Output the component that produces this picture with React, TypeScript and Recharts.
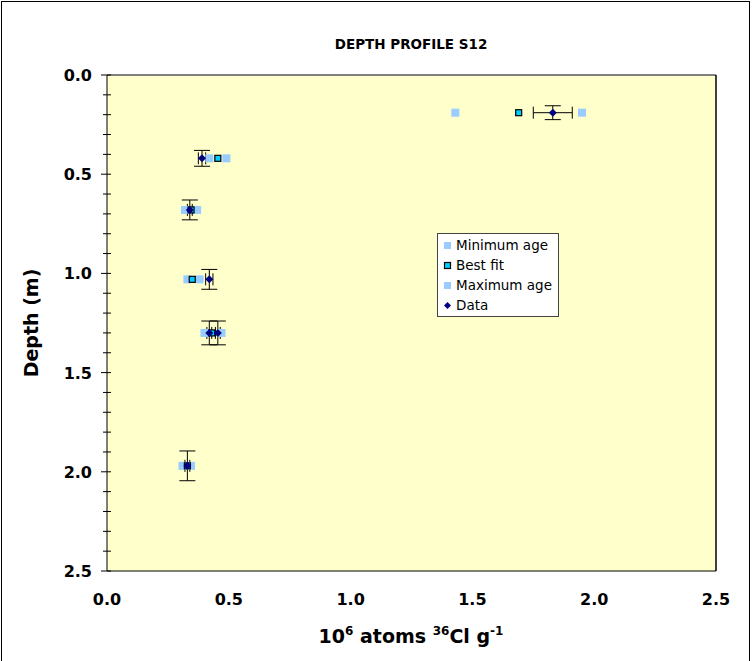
import React from 'react';
import {
  ScatterChart,
  Scatter,
  XAxis,
  YAxis,
  ErrorBar,
  CartesianGrid,
  ReferenceLine,
  Legend,
} from 'recharts';

// ---- data ----
const modelDepths = [0.19, 0.42, 0.68, 1.03, 1.3, 1.97];
const minAgeValues = [1.43, 0.42, 0.32, 0.33, 0.4, 0.31];
const bestFitValues = [1.69, 0.455, 0.345, 0.35, 0.43, 0.33];
const maxAgeValues = [1.95, 0.49, 0.37, 0.38, 0.47, 0.345];

const dataValues = [1.83, 0.39, 0.34, 0.42, 0.42, 0.455, 0.33];
const dataDepths = [0.19, 0.42, 0.68, 1.03, 1.3, 1.3, 1.97];
const dataXErr = [0.08, 0.015, 0.01, 0.015, 0.01, 0.01, 0.01];
const dataYErr = [0.035, 0.04, 0.05, 0.05, 0.06, 0.06, 0.075];

const xTicks = [0, 0.5, 1.0, 1.5, 2.0, 2.5];
const yTicks = [
  0, 0.1, 0.2, 0.3, 0.4, 0.5, 0.6, 0.7, 0.8, 0.9, 1.0, 1.1, 1.2, 1.3, 1.4, 1.5, 1.6, 1.7, 1.8, 1.9, 2.0,
  2.1, 2.2, 2.3, 2.4, 2.5,
];
const yMajorLabels = ['0.0', '0.5', '1.0', '1.5', '2.0', '2.5'];

const seriesNames = ['Minimum age', 'Best fit', 'Maximum age', 'Data'];

const minAgeData = modelDepths.map((d, i) => ({ x: minAgeValues[i], y: d }));
const bestFitData = modelDepths.map((d, i) => ({ x: bestFitValues[i], y: d }));
const maxAgeData = modelDepths.map((d, i) => ({ x: maxAgeValues[i], y: d }));
const measuredData = dataDepths.map((d, i) => ({
  x: dataValues[i],
  y: d,
  xErr: dataXErr[i],
  yErr: dataYErr[i],
}));

const FONT = '"DejaVu Sans", Verdana, sans-serif';
const LIGHT = '#99CCFF';
const CYAN = '#00CCFF';
const NAVY = '#000080';

const LightSquare = (props: any) => {
  const { cx, cy } = props;
  if (cx == null || cy == null) return null;
  return <rect x={cx - 4} y={cy - 4} width={8} height={8} fill={LIGHT} />;
};
const BestSquare = (props: any) => {
  const { cx, cy } = props;
  if (cx == null || cy == null) return null;
  return <rect x={cx - 3} y={cy - 3} width={6} height={6} fill={CYAN} stroke="#000" strokeWidth={1.2} />;
};
const Diamond = (props: any) => {
  const { cx, cy } = props;
  if (cx == null || cy == null) return null;
  return <path d={`M${cx},${cy - 4} L${cx + 4},${cy} L${cx},${cy + 4} L${cx - 4},${cy} Z`} fill={NAVY} />;
};

const YTick = (props: any) => {
  const { x, y, payload } = props;
  const v = payload.value as number;
  const label = yMajorLabels.find((l) => Math.abs(parseFloat(l) - v) < 1e-6);
  return (
    <g>
      <line x1={label ? x - 6 : x - 4} x2={x + 4} y1={y} y2={y} stroke="#000" strokeWidth={1} />
      {label && (
        <text x={x - 15} y={y} dy={6} textAnchor="end" fontFamily={FONT} fontWeight="bold" fontSize={16} fill="#000">
          {label}
        </text>
      )}
    </g>
  );
};

const XTick = (props: any) => {
  const { x, y, payload } = props;
  return (
    <text x={x} y={y + 34} textAnchor="middle" fontFamily={FONT} fontWeight="bold" fontSize={16} fill="#000">
      {(payload.value as number).toFixed(1)}
    </text>
  );
};

const LegendBox = () => {
  const icons = [
    <rect key="a" x={2} y={2} width={7} height={7} fill={LIGHT} />,
    <rect key="b" x={2.5} y={2.5} width={6} height={6} fill={CYAN} stroke="#000" strokeWidth={1.2} />,
    <rect key="c" x={2} y={2} width={7} height={7} fill={LIGHT} />,
    <path key="d" d="M5.5,2 L9,5.5 L5.5,9 L2,5.5 Z" fill={NAVY} />,
  ];
  return (
    <div
      style={{
        border: '1px solid #444',
        background: '#fff',
        padding: '1px 6px 1px 4px',
        fontFamily: FONT,
        fontSize: 13.5,
        lineHeight: '20px',
        color: '#000',
        width: 110,
      }}
    >
      {seriesNames.map((n, i) => (
        <div key={n} style={{ display: 'flex', alignItems: 'center', whiteSpace: 'nowrap' }}>
          <svg width={11} height={11} style={{ marginRight: 3 }}>
            {icons[i]}
          </svg>
          <span>{n}</span>
        </div>
      ))}
    </div>
  );
};

export default function App() {
  return (
    <div style={{ position: 'absolute', left: 0, top: 0, width: 753, height: 661, background: '#fff', overflow: 'hidden' }}>
      <div
        style={{
          position: 'absolute',
          left: 1,
          top: 1,
          width: 749,
          height: 720,
          border: '1px solid #000',
          boxSizing: 'border-box',
        }}
      />
      <div
        style={{
          position: 'absolute',
          left: 0,
          top: 36,
          width: 822,
          textAlign: 'center',
          fontFamily: FONT,
          fontWeight: 'bold',
          fontSize: 13.5,
          color: '#000',
        }}
      >
        DEPTH PROFILE S12
      </div>
      <div style={{ position: 'absolute', left: 0, top: 0 }}>
        <ScatterChart width={753} height={661} margin={{ top: 75, right: 37, left: 0, bottom: 0 }}>
          <CartesianGrid fill="#FFFFCC" horizontal={false} vertical={false} />
          <XAxis
            type="number"
            dataKey="x"
            domain={[0, 2.5]}
            ticks={xTicks}
            tick={<XTick />}
            tickLine={false}
            tickSize={0}
            tickMargin={0}
            axisLine={{ stroke: '#000', strokeWidth: 1 }}
            height={90}
            allowDataOverflow
            label={{
              content: () => (
                <text x={411} y={643} textAnchor="middle" fontFamily={FONT} fontWeight="bold" fontSize={19} fill="#000">
                  <tspan>10</tspan>
                  <tspan fontSize={12} dy={-8}>6</tspan>
                  <tspan dy={8}> atoms </tspan>
                  <tspan fontSize={12} dy={-8}>36</tspan>
                  <tspan dy={8}>Cl g</tspan>
                  <tspan fontSize={12} dy={-8}>-1</tspan>
                </text>
              ),
            }}
          />
          <YAxis
            type="number"
            dataKey="y"
            reversed
            domain={[0, 2.5]}
            ticks={yTicks}
            interval={0}
            tick={<YTick />}
            tickLine={false}
            tickSize={0}
            tickMargin={0}
            axisLine={{ stroke: '#000', strokeWidth: 1 }}
            width={107}
            allowDataOverflow
            label={{
              content: () => (
                <text
                  x={38}
                  y={323}
                  transform="rotate(-90 38 323)"
                  textAnchor="middle"
                  fontFamily={FONT}
                  fontWeight="bold"
                  fontSize={19}
                  fill="#000"
                >
                  Depth (m)
                </text>
              ),
            }}
          />
          <ReferenceLine y={0} stroke="#808080" strokeWidth={2} />
          <ReferenceLine x={2.5} stroke="#000" strokeWidth={1.5} />
          <Legend
            layout="vertical"
            align="center"
            verticalAlign="middle"
            content={<LegendBox />}
            wrapperStyle={{ position: 'absolute', left: 437, top: 233, width: 'auto', height: 'auto' }}
          />
          <Scatter name={seriesNames[0]} data={minAgeData} shape={<LightSquare />} isAnimationActive={false} />
          <Scatter name={seriesNames[2]} data={maxAgeData} shape={<LightSquare />} isAnimationActive={false} />
          <Scatter name={seriesNames[1]} data={bestFitData} shape={<BestSquare />} isAnimationActive={false} />
          <Scatter name={seriesNames[3]} data={measuredData} shape={<Diamond />} isAnimationActive={false}>
            <ErrorBar dataKey="xErr" direction="x" width={6} stroke="#000" strokeWidth={1} />
            <ErrorBar dataKey="yErr" direction="y" width={8} stroke="#000" strokeWidth={1} />
          </Scatter>
        </ScatterChart>
      </div>
    </div>
  );
}
